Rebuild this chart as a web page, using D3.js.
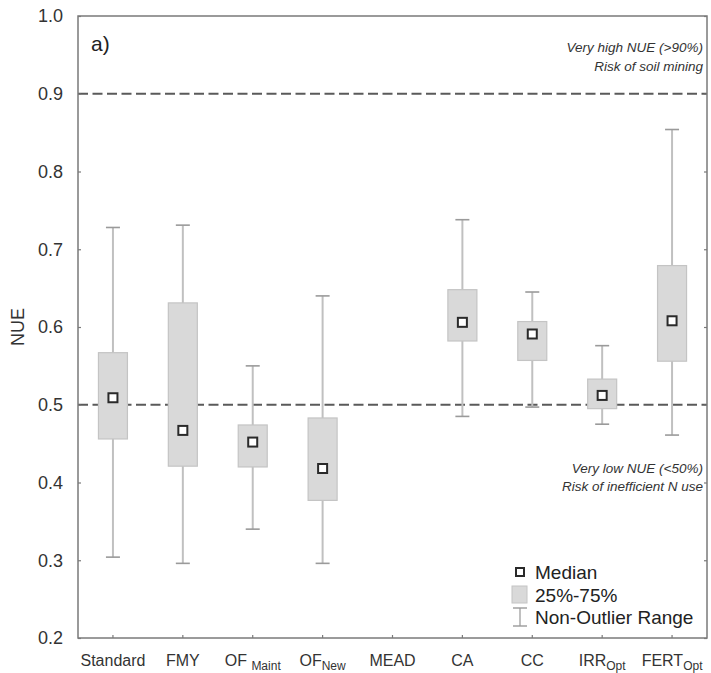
<!DOCTYPE html>
<html>
<head>
<meta charset="utf-8">
<script src="https://cdn.jsdelivr.net/npm/d3@7/dist/d3.min.js"></script>
<style>
  body { margin: 0; background: #fff; }
  svg { display: block; font-family: Arial, "Liberation Sans", sans-serif; }
</style>
</head>
<body>
<svg id="chart" width="711" height="673"></svg>
<script>
// Scenario categories (main label + subscript)
const categories = ["Standard", "FMY", "OF_Maint", "OF_New", "MEAD", "CA", "CC", "IRR_Opt", "FERT_Opt"];
const labelMain = ["Standard", "FMY", "OF ", "OF", "MEAD", "CA", "CC", "IRR", "FERT"];
const labelSub  = ["", "", "Maint", "New", "", "", "", "Opt", "Opt"];

// NUE statistics per scenario (null = no data)
const whiskerLow  = [0.304, 0.296, 0.340, 0.296, null, 0.485, 0.497, 0.475, 0.461];
const q1          = [0.456, 0.421, 0.420, 0.377, null, 0.582, 0.557, 0.495, 0.556];
const median      = [0.509, 0.467, 0.452, 0.418, null, 0.606, 0.591, 0.512, 0.608];
const q3          = [0.567, 0.631, 0.474, 0.483, null, 0.648, 0.607, 0.533, 0.679];
const whiskerHigh = [0.728, 0.731, 0.550, 0.640, null, 0.738, 0.645, 0.576, 0.854];

const yTicks = [0.2, 0.3, 0.4, 0.5, 0.6, 0.7, 0.8, 0.9, 1.0];
const thresholds = [0.9, 0.5];

const svg = d3.select("#chart");
const plotLeft = 78, plotRight = 707, plotTop = 16, plotBottom = 638;

const x = d3.scaleBand().domain(categories).range([plotLeft, plotRight]);
const y = d3.scaleLinear().domain([0.2, 1.0]).range([plotBottom, plotTop]);

const data = categories.map((c, i) => ({
  c, lo: whiskerLow[i], q1: q1[i], med: median[i], q3: q3[i], hi: whiskerHigh[i]
})).filter(d => d.med !== null);

const boxW = 29, capW = 14, medS = 9;
const cx = d => x(d.c) + x.bandwidth() / 2;

// Threshold lines
svg.selectAll("line.thr").data(thresholds).join("line")
  .attr("class", "thr")
  .attr("x1", plotLeft).attr("x2", plotRight)
  .attr("y1", d => y(d)).attr("y2", d => y(d))
  .attr("stroke", "#5a5a5a").attr("stroke-width", 2)
  .attr("stroke-dasharray", "10,4.5");

const g = svg.append("g");

// Whiskers
g.selectAll("line.wh").data(data).join("line")
  .attr("class", "wh")
  .attr("x1", cx).attr("x2", cx)
  .attr("y1", d => y(d.lo)).attr("y2", d => y(d.hi))
  .attr("stroke", "#c0c0c0").attr("stroke-width", 2);

// Whisker caps
["lo", "hi"].forEach(k => {
  g.selectAll("line.cap" + k).data(data).join("line")
    .attr("class", "cap" + k)
    .attr("x1", d => cx(d) - capW / 2).attr("x2", d => cx(d) + capW / 2)
    .attr("y1", d => y(d[k])).attr("y2", d => y(d[k]))
    .attr("stroke", "#9a9a9a").attr("stroke-width", 1.6);
});

// Boxes (25%-75%)
g.selectAll("rect.box").data(data).join("rect")
  .attr("class", "box")
  .attr("x", d => cx(d) - boxW / 2)
  .attr("width", boxW)
  .attr("y", d => y(d.q3))
  .attr("height", d => y(d.q1) - y(d.q3))
  .attr("fill", "#d9d9d9").attr("stroke", "#c4c4c4").attr("stroke-width", 1.2);

// Medians
g.selectAll("rect.med").data(data).join("rect")
  .attr("class", "med")
  .attr("x", d => cx(d) - medS / 2)
  .attr("y", d => y(d.med) - medS / 2)
  .attr("width", medS).attr("height", medS)
  .attr("fill", "#fff").attr("stroke", "#2a2a2a").attr("stroke-width", 2);

// Frame
svg.append("rect")
  .attr("x", plotLeft).attr("y", plotTop)
  .attr("width", plotRight - plotLeft).attr("height", plotBottom - plotTop)
  .attr("fill", "none").attr("stroke", "#7a7a7a").attr("stroke-width", 1.5);

// Y axis (ticks pointing inward)
const yAxis = svg.append("g").attr("transform", `translate(${plotLeft},0)`)
  .call(d3.axisLeft(y).tickValues(yTicks).tickFormat(d3.format(".1f")).tickSizeInner(-3).tickSizeOuter(0).tickPadding(15));
yAxis.select(".domain").remove();
yAxis.selectAll(".tick line").attr("stroke", "#7a7a7a").attr("stroke-width", 1.2);
yAxis.selectAll(".tick text").attr("font-size", 18).attr("fill", "#333")
  .attr("font-family", "Arial, 'Liberation Sans', sans-serif");

// Right side inward ticks
const yAxisR = svg.append("g").attr("transform", `translate(${plotRight},0)`)
  .call(d3.axisRight(y).tickValues(yTicks).tickFormat("").tickSizeInner(-3).tickSizeOuter(0));
yAxisR.select(".domain").remove();
yAxisR.selectAll(".tick line").attr("stroke", "#7a7a7a").attr("stroke-width", 1.2);

// X axis
const xAxis = svg.append("g").attr("transform", `translate(0,${plotBottom})`)
  .call(d3.axisBottom(x).tickSizeInner(-3).tickSizeOuter(0).tickFormat(""));
xAxis.select(".domain").remove();
xAxis.selectAll(".tick line").attr("stroke", "#7a7a7a").attr("stroke-width", 1.2);

// X tick labels with subscripts
const xl = svg.append("g");
categories.forEach((c, i) => {
  const t = xl.append("text")
    .attr("x", x(c) + x.bandwidth() / 2)
    .attr("y", 666)
    .attr("text-anchor", "middle")
    .attr("font-size", 16).attr("fill", "#333");
  t.append("tspan").text(labelMain[i]);
  if (labelSub[i]) {
    t.append("tspan").text(labelSub[i]).attr("font-size", 12).attr("dy", 4);
  }
});

// Y label
svg.append("text")
  .attr("transform", `translate(24,${(plotTop + plotBottom) / 2}) rotate(-90)`)
  .attr("text-anchor", "middle")
  .attr("font-size", 18).attr("fill", "#333")
  .text("NUE");

// Panel label
svg.append("text").attr("x", 91).attr("y", 51)
  .attr("font-size", 21).attr("fill", "#222").text("a)");

// Threshold annotations
const ann = [
  { t: "Very high NUE (>90%)", y: 52 },
  { t: "Risk of soil mining", y: 71 },
  { t: "Very low NUE (<50%)", y: 473 },
  { t: "Risk of inefficient N use", y: 491 }
];
svg.selectAll("text.ann").data(ann).join("text")
  .attr("class", "ann")
  .attr("x", 703).attr("y", d => d.y)
  .attr("text-anchor", "end")
  .attr("font-size", 13.5).attr("font-style", "italic").attr("fill", "#333")
  .text(d => d.t);

// Legend
const lg = svg.append("g");
lg.append("rect").attr("x", 516).attr("y", 568).attr("width", 8).attr("height", 8)
  .attr("fill", "#fff").attr("stroke", "#2a2a2a").attr("stroke-width", 2);
lg.append("rect").attr("x", 512).attr("y", 586).attr("width", 15).attr("height", 17)
  .attr("fill", "#d9d9d9").attr("stroke", "#c4c4c4");
lg.append("line").attr("x1", 520).attr("x2", 520).attr("y1", 608).attr("y2", 626)
  .attr("stroke", "#c0c0c0").attr("stroke-width", 2);
lg.append("line").attr("x1", 513).attr("x2", 527).attr("y1", 608).attr("y2", 608)
  .attr("stroke", "#9a9a9a").attr("stroke-width", 1.4);
lg.append("line").attr("x1", 513).attr("x2", 527).attr("y1", 626).attr("y2", 626)
  .attr("stroke", "#9a9a9a").attr("stroke-width", 1.4);
const legendLabels = ["Median", "25%-75%", "Non-Outlier Range"];
lg.selectAll("text.leg").data(legendLabels).join("text")
  .attr("class", "leg")
  .attr("x", 535).attr("y", (d, i) => 579 + i * 22.5)
  .attr("font-size", 19).attr("fill", "#222")
  .text(d => d);
</script>
</body>
</html>
